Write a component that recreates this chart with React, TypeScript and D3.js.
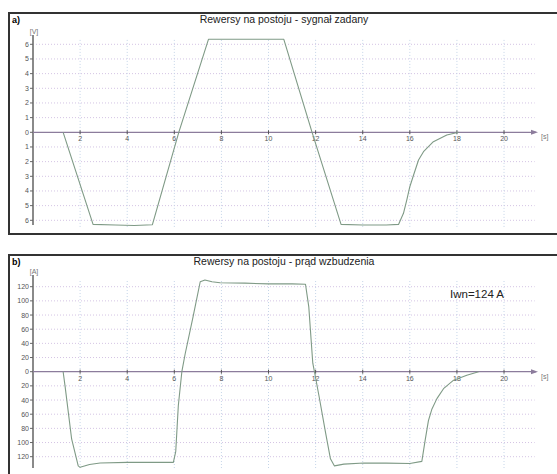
import React, { useEffect, useRef } from "react";
import * as d3 from "d3";

// a) set-point signal [V]
const timeA = [1.28, 2.55, 3.5, 4.3, 5.07, 6.19, 7.45, 8.5, 9.5, 10.65, 11.85, 13.08, 14.0, 15.0, 15.52, 15.73, 15.87, 16.0, 16.16, 16.37, 16.58, 17.0, 17.57, 18.07];
const voltA = [0, -6.28, -6.32, -6.35, -6.3, 0, 6.34, 6.34, 6.34, 6.34, 0, -6.28, -6.32, -6.32, -6.28, -5.52, -4.62, -3.71, -2.91, -1.89, -1.32, -0.64, -0.18, 0];

// b) excitation current [A]
const timeB = [1.28, 1.36, 1.64, 1.92, 2.0, 2.4, 2.85, 4.0, 5.0, 5.96, 6.06, 6.17, 6.32, 6.46, 6.8, 7.1, 7.3, 7.6, 7.94, 9.0, 10.0, 11.0, 11.57, 11.71, 11.78, 11.88, 11.95, 12.14, 12.42, 12.63, 12.8, 13.2, 14.05, 15.0, 16.0, 16.51, 16.65, 16.79, 16.94, 17.15, 17.43, 17.86, 18.42, 18.92];
const currB = [0, -20, -95, -133, -135, -131, -129, -128, -128, -128, -113, -48, 0, 25, 78, 127, 129.5, 127, 125.5, 125, 124, 124, 123.4, 91.6, 58.6, 12, 0, -33.6, -85.6, -123, -133, -130.5, -129, -129, -129.5, -126.6, -97, -69, -52.5, -38, -24, -12, -5, 0];

const xTicks = [2, 4, 6, 8, 10, 12, 14, 16, 18, 20];
const yTicksA = [6, 5, 4, 3, 2, 1, 0, -1, -2, -3, -4, -5, -6];
const yTicksB = [120, 100, 80, 60, 40, 20, 0, -20, -40, -60, -80, -100, -120];

const width = 557;
const height = 474;
const font = "'Liberation Sans', Arial, sans-serif";

const drawPanel = (svg, opt) => {
  const x = d3.scaleLinear().domain([0, 21.4]).range([33, 537]);
  const y = opt.y;
  const g = svg.append("g");

  // frame
  g.append("rect")
    .attr("x", 9)
    .attr("y", opt.frameTop)
    .attr("width", 560)
    .attr("height", opt.frameBottom - opt.frameTop)
    .attr("fill", "white")
    .attr("stroke", "#333")
    .attr("stroke-width", 2);

  const gridTop = y(opt.gridMax);
  const gridBottom = y(opt.gridMin);

  // horizontal grid
  g.selectAll(".hgrid")
    .data(opt.ticks.filter((d) => d !== 0))
    .enter()
    .append("line")
    .attr("x1", 33)
    .attr("x2", x(21.3))
    .attr("y1", (d) => y(d))
    .attr("y2", (d) => y(d))
    .attr("stroke", "#d4c4e4")
    .attr("stroke-dasharray", "1,2");

  // vertical grid
  g.selectAll(".vgrid")
    .data(xTicks)
    .enter()
    .append("line")
    .attr("x1", (d) => x(d))
    .attr("x2", (d) => x(d))
    .attr("y1", gridTop)
    .attr("y2", gridBottom)
    .attr("stroke", "#c4d4e8")
    .attr("stroke-dasharray", "1,2");

  // y axis
  g.append("line")
    .attr("x1", 33)
    .attr("x2", 33)
    .attr("y1", opt.axisTop)
    .attr("y2", opt.axisBottom)
    .attr("stroke", "#8a8a8a")
    .attr("stroke-width", 2);

  g.selectAll(".ytick")
    .data(opt.ticks)
    .enter()
    .append("line")
    .attr("x1", 30)
    .attr("x2", 33)
    .attr("y1", (d) => y(d))
    .attr("y2", (d) => y(d))
    .attr("stroke", "#666");

  g.selectAll(".ylab")
    .data(opt.ticks)
    .enter()
    .append("text")
    .attr("x", 29)
    .attr("y", (d) => y(d) + 2.5)
    .attr("text-anchor", "end")
    .attr("font-size", 7)
    .attr("fill", "#555")
    .attr("font-family", font)
    .text((d) => Math.abs(d));

  g.append("text")
    .attr("x", 34)
    .attr("y", opt.axisTop - 1)
    .attr("text-anchor", "middle")
    .attr("font-size", 7)
    .attr("fill", "#777")
    .attr("font-family", font)
    .text(opt.unit);

  // x axis along zero
  const y0 = y(0);
  g.append("line")
    .attr("x1", 33)
    .attr("x2", 536)
    .attr("y1", y0)
    .attr("y2", y0)
    .attr("stroke", "#8c7c9c")
    .attr("stroke-width", 1.2);
  g.append("path")
    .attr("d", `M538,${y0}L531,${y0 - 2.5}L531,${y0 + 2.5}Z`)
    .attr("fill", "#8c7c9c");

  g.selectAll(".xtick")
    .data(xTicks)
    .enter()
    .append("line")
    .attr("x1", (d) => x(d))
    .attr("x2", (d) => x(d))
    .attr("y1", y0 - 2)
    .attr("y2", y0 + 2)
    .attr("stroke", "#555");

  g.selectAll(".xlab")
    .data(xTicks)
    .enter()
    .append("text")
    .attr("x", (d) => x(d))
    .attr("y", y0 + 9)
    .attr("text-anchor", "middle")
    .attr("font-size", 7)
    .attr("fill", "#555")
    .attr("font-family", font)
    .text((d) => d);

  g.append("text")
    .attr("x", 541)
    .attr("y", y0 + 7)
    .attr("font-size", 7)
    .attr("fill", "#777")
    .attr("font-family", font)
    .text("[s]");

  // titles
  g.append("text")
    .attr("x", 12)
    .attr("y", opt.frameTop + 10)
    .attr("font-size", 9)
    .attr("font-weight", "bold")
    .attr("font-family", font)
    .text(opt.letter);

  g.append("text")
    .attr("x", 284)
    .attr("y", opt.frameTop + 10)
    .attr("text-anchor", "middle")
    .attr("font-size", 10.5)
    .attr("font-family", font)
    .attr("fill", "#222")
    .text(opt.title);

  // trace
  const line = d3
    .line()
    .x((d) => x(d[0]))
    .y((d) => y(d[1]));

  g.append("path")
    .datum(opt.t.map((t, i) => [t, opt.v[i]]))
    .attr("d", line)
    .attr("fill", "none")
    .attr("stroke", "#7f9a86")
    .attr("stroke-width", 1.1)
    .attr("stroke-linejoin", "round");

  return g;
};

const App = () => {
  const ref = useRef(null);

  useEffect(() => {
    const svg = d3.select(ref.current);
    svg.selectAll("*").remove();

    drawPanel(svg, {
      frameTop: 13,
      frameBottom: 234,
      y: d3.scaleLinear().domain([-6, 6]).range([220.3, 44.3]),
      gridMax: 6.3,
      gridMin: -6.5,
      axisTop: 35,
      axisBottom: 225,
      ticks: yTicksA,
      unit: "[V]",
      letter: "a)",
      title: "Rewersy na postoju - sygnał zadany",
      t: timeA,
      v: voltA,
    });

    const gb = drawPanel(svg, {
      frameTop: 255,
      frameBottom: 490,
      y: d3.scaleLinear().domain([-120, 120]).range([456.7, 286.7]),
      gridMax: 128,
      gridMin: -136,
      axisTop: 275,
      axisBottom: 468,
      ticks: yTicksB,
      unit: "[A]",
      letter: "b)",
      title: "Rewersy na postoju - prąd wzbudzenia",
      t: timeB,
      v: currB,
    });

    gb.append("text")
      .attr("x", 450)
      .attr("y", 298)
      .attr("font-size", 11.5)
      .attr("fill", "#222")
      .attr("font-family", font)
      .text("Iwn=124 A");
  }, []);

  return (
    <svg
      ref={ref}
      width={width}
      height={height}
      style={{ position: "absolute", left: 0, top: 0, background: "white" }}
    ></svg>
  );
};

export default App;
